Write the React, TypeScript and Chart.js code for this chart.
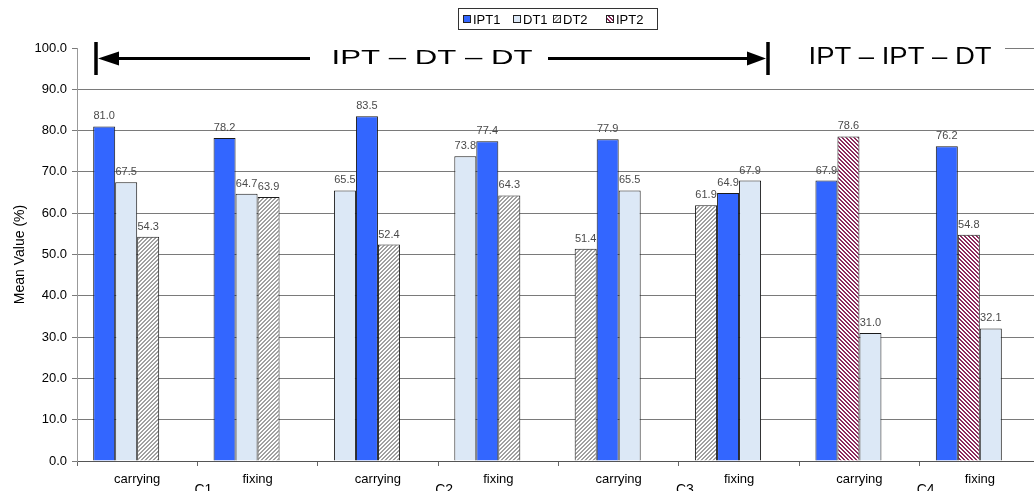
import React, { useEffect, useRef } from 'react';
import { Chart, registerables } from 'chart.js';

Chart.register(...registerables);

const categories = ['carrying', 'fixing', 'carrying', 'fixing', 'carrying', 'fixing', 'carrying', 'fixing'];
const conditionLabels = ['C1', 'C2', 'C3', 'C4'];
const seriesNames = ['IPT1', 'DT1', 'DT2', 'IPT2'];
const ipt1 = [81.0, 78.2, 83.5, 77.4, 77.9, 64.9, 67.9, 76.2];
const dt1 = [67.5, 64.7, 65.5, 73.8, 65.5, 67.9, 31.0, 32.1];
const dt2: (number | null)[] = [54.3, 63.9, 52.4, 64.3, 51.4, 61.9, null, null];
const ipt2: (number | null)[] = [null, null, null, null, null, null, 78.6, 54.8];
// order of the series inside each category (slot 1..3; slot 4 is empty)
const barOrder = [
  ['IPT1', 'DT1', 'DT2'],
  ['IPT1', 'DT1', 'DT2'],
  ['DT1', 'IPT1', 'DT2'],
  ['DT1', 'IPT1', 'DT2'],
  ['DT2', 'IPT1', 'DT1'],
  ['DT2', 'IPT1', 'DT1'],
  ['IPT1', 'IPT2', 'DT1'],
  ['IPT1', 'IPT2', 'DT1'],
];
const designTitles = ['IPT – DT – DT', 'IPT – IPT – DT'];
const yTitle = 'Mean Value (%)';

const FONT = '"Liberation Sans", Arial, sans-serif';

function stripe(color: string, dir: 'up' | 'down'): CanvasPattern | string {
  const c = document.createElement('canvas');
  c.width = 4;
  c.height = 4;
  const g = c.getContext('2d');
  if (!g) return color;
  g.fillStyle = '#ffffff';
  g.fillRect(0, 0, 4, 4);
  g.fillStyle = color;
  for (let x = 0; x < 4; x++) {
    for (let y = 0; y < 4; y++) {
      const k = dir === 'up' ? (x + y) % 4 : (x - y + 4) % 4;
      if (k < 2) g.fillRect(x, y, 1, 1);
    }
  }
  const p = g.createPattern(c, 'repeat');
  return p || color;
}

export default function App() {
  const ref = useRef<HTMLCanvasElement | null>(null);

  useEffect(() => {
    const canvas = ref.current;
    if (!canvas) return;

    const fills: Record<string, any> = {
      IPT1: '#3366ff',
      DT1: '#dce8f6',
      DT2: stripe('#a0a0a0', 'up'),
      IPT2: stripe('#8c2a5c', 'down'),
    };
    const values: Record<string, (number | null)[]> = { IPT1: ipt1, DT1: dt1, DT2: dt2, IPT2: ipt2 };

    const datasets = [0, 1, 2, 3].map((slot) => ({
      label: 'slot' + slot,
      data: categories.map((_, g) => (slot < 3 ? values[barOrder[g][slot]][g] : null)),
      backgroundColor: categories.map((_, g) => (slot < 3 ? fills[barOrder[g][slot]] : '#fff')),
      borderColor: '#1a1a1a',
      borderWidth: 1,
      categoryPercentage: 0.731,
      barPercentage: 1.0,
    }));

    const overlay = {
      id: 'overlay',
      beforeDatasetsDraw(chart: any) {
        const ctx = chart.ctx;
        const y100 = chart.scales.y.getPixelForValue(100);
        ctx.save();
        ctx.fillStyle = '#ffffff';
        ctx.fillRect(chart.chartArea.left + 1, y100 - 3, 927, 6);
        ctx.restore();
      },
      afterDatasetsDraw(chart: any) {
        const ctx = chart.ctx;
        ctx.save();
        ctx.font = `11px ${FONT}`;
        ctx.fillStyle = '#4a4a4a';
        ctx.textAlign = 'center';
        ctx.textBaseline = 'alphabetic';
        chart.data.datasets.forEach((ds: any, i: number) => {
          const meta = chart.getDatasetMeta(i);
          meta.data.forEach((bar: any, j: number) => {
            const v = ds.data[j];
            if (v == null) return;
            ctx.fillText(v.toFixed(1), bar.x, bar.y - 7);
          });
        });
        ctx.restore();
      },
      afterDraw(chart: any) {
        const ctx = chart.ctx;
        const xs = chart.scales.x;
        ctx.save();

        // condition labels (C1..C4)
        ctx.font = `14px ${FONT}`;
        ctx.fillStyle = '#000';
        ctx.textAlign = 'center';
        ctx.textBaseline = 'alphabetic';
        conditionLabels.forEach((t, k) => {
          const a = xs.getPixelForValue(2 * k);
          const b = xs.getPixelForValue(2 * k + 1);
          ctx.fillText(t, (a + b) / 2 + 6, 494);
        });

        // design headings
        const fitText = (text: string, cx: number, cy: number, size: number, width: number) => {
          ctx.save();
          ctx.font = `${size}px ${FONT}`;
          const w = ctx.measureText(text).width;
          ctx.translate(cx, cy);
          ctx.scale(width / w, 1);
          ctx.textAlign = 'center';
          ctx.textBaseline = 'middle';
          ctx.fillStyle = '#000';
          ctx.fillText(text, 0, 0);
          ctx.restore();
        };
        fitText(designTitles[0], 432, 58, 21, 201);
        fitText(designTitles[1], 900, 58, 23, 183);

        // arrow
        ctx.strokeStyle = '#000';
        ctx.fillStyle = '#000';
        ctx.lineWidth = 3;
        ctx.beginPath();
        ctx.moveTo(115, 58.5);
        ctx.lineTo(310, 58.5);
        ctx.moveTo(548, 58.5);
        ctx.lineTo(752, 58.5);
        ctx.stroke();
        ctx.lineWidth = 3.5;
        ctx.beginPath();
        ctx.moveTo(96, 42);
        ctx.lineTo(96, 75);
        ctx.moveTo(768, 42);
        ctx.lineTo(768, 75);
        ctx.stroke();
        ctx.beginPath();
        ctx.moveTo(98, 58.5);
        ctx.lineTo(119, 51.5);
        ctx.lineTo(119, 65.5);
        ctx.closePath();
        ctx.fill();
        ctx.beginPath();
        ctx.moveTo(766, 58.5);
        ctx.lineTo(747, 51.5);
        ctx.lineTo(747, 65.5);
        ctx.closePath();
        ctx.fill();

        // legend
        ctx.lineWidth = 1;
        ctx.strokeStyle = '#333';
        ctx.strokeRect(458.5, 8.5, 199, 21);
        const boxX = [463, 513, 553, 606];
        ctx.font = `13px ${FONT}`;
        ctx.textAlign = 'left';
        ctx.textBaseline = 'alphabetic';
        seriesNames.forEach((name, i) => {
          ctx.fillStyle = fills[name];
          ctx.fillRect(boxX[i], 15, 8, 8);
          ctx.strokeStyle = '#222';
          ctx.strokeRect(boxX[i] + 0.5, 15.5, 7, 7);
          ctx.fillStyle = '#000';
          ctx.fillText(name, boxX[i] + 10, 24);
        });
        ctx.restore();
      },
    };

    const chart = new Chart(canvas, {
      type: 'bar',
      data: { labels: categories, datasets },
      options: {
        animation: false,
        responsive: false,
        devicePixelRatio: 1,
        layout: { padding: { top: 48, right: 5, left: 0, bottom: 0 } },
        plugins: {
          legend: { display: false },
          tooltip: { enabled: false },
        },
        scales: {
          x: {
            offset: true,
            grid: { display: true, drawOnChartArea: false, drawTicks: true, tickLength: 5, offset: true, color: '#666' },
            border: { display: true, color: '#555', width: 1 },
            ticks: { font: { size: 13, family: FONT }, color: '#000', padding: 6, maxRotation: 0, autoSkip: false },
            afterFit: (s: any) => { s.height = 39; },
          },
          y: {
            min: 0,
            max: 100,
            ticks: {
              stepSize: 10,
              font: { size: 13, family: FONT },
              color: '#000',
              padding: 5,
              callback: (v: any) => Number(v).toFixed(1),
            },
            grid: { color: '#7a7a7a', lineWidth: 1, tickLength: 5 },
            border: { display: true, color: '#999', width: 1 },
            title: { display: true, text: yTitle, font: { size: 14, family: FONT }, color: '#000', padding: { top: 12, bottom: 0 } },
            afterFit: (s: any) => { s.width = 77; },
          },
        },
      },
      plugins: [overlay],
    });
    return () => chart.destroy();
  }, []);

  return (
    <div style={{ position: 'fixed', left: 0, top: 0, width: 1034, height: 491, overflow: 'hidden', background: '#fff' }}>
      <canvas ref={ref} width={1045} height={500} style={{ display: 'block' }} />
    </div>
  );
}
